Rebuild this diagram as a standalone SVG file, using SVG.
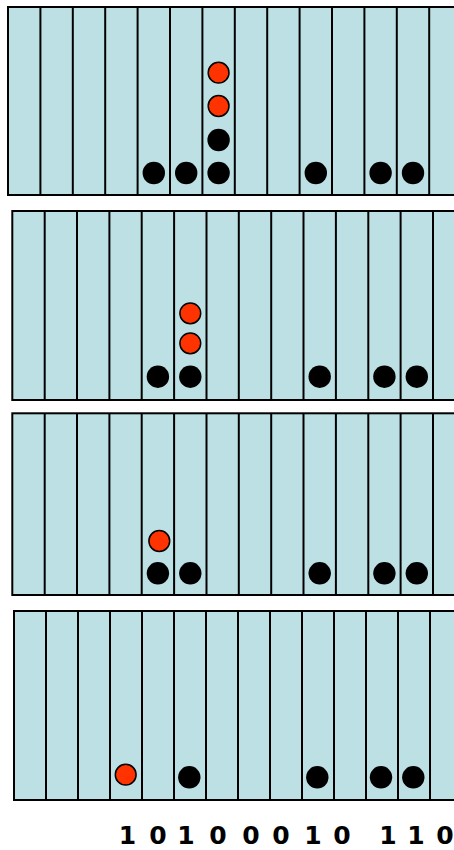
<svg xmlns="http://www.w3.org/2000/svg" width="454" height="850" viewBox="0 0 454 850">
<style>
.panel{fill:#BCE0E3;stroke:#000;stroke-width:2}
.col{stroke:#000;stroke-width:2}
.blk{fill:#000}
.red{fill:#FF3300;stroke:#000;stroke-width:1.5}
.bit{font-family:"DejaVu Sans",Verdana,sans-serif;font-weight:bold;font-size:25px;fill:#000;text-anchor:middle}
</style>
<rect width="454" height="850" fill="#fff"/>
<g id="panel1">
<rect class="panel" x="8" y="7" width="470" height="188"/>
<g class="col">
<line x1="40.4" y1="7" x2="40.4" y2="195"/><line x1="72.8" y1="7" x2="72.8" y2="195"/><line x1="105.2" y1="7" x2="105.2" y2="195"/><line x1="137.6" y1="7" x2="137.6" y2="195"/><line x1="170" y1="7" x2="170" y2="195"/><line x1="202.4" y1="7" x2="202.4" y2="195"/><line x1="234.8" y1="7" x2="234.8" y2="195"/><line x1="267.2" y1="7" x2="267.2" y2="195"/><line x1="299.6" y1="7" x2="299.6" y2="195"/><line x1="332" y1="7" x2="332" y2="195"/><line x1="364.4" y1="7" x2="364.4" y2="195"/><line x1="396.8" y1="7" x2="396.8" y2="195"/><line x1="429.2" y1="7" x2="429.2" y2="195"/>
</g>
<circle class="blk" cx="153.8" cy="173" r="11.2"/><circle class="blk" cx="186.2" cy="173" r="11.2"/><circle class="blk" cx="218.6" cy="173" r="11.2"/><circle class="blk" cx="218.6" cy="140" r="11.2"/>
<circle class="red" cx="218.6" cy="106" r="10.4"/><circle class="red" cx="218.6" cy="72.7" r="10.4"/>
<circle class="blk" cx="315.8" cy="173" r="11.2"/><circle class="blk" cx="380.6" cy="173" r="11.2"/><circle class="blk" cx="413" cy="173" r="11.2"/>
</g>
<g id="panel2">
<rect class="panel" x="12.3" y="211" width="470" height="189"/>
<g class="col">
<line x1="44.7" y1="211" x2="44.7" y2="400"/><line x1="77" y1="211" x2="77" y2="400"/><line x1="109.4" y1="211" x2="109.4" y2="400"/><line x1="141.7" y1="211" x2="141.7" y2="400"/><line x1="174.1" y1="211" x2="174.1" y2="400"/><line x1="206.5" y1="211" x2="206.5" y2="400"/><line x1="238.8" y1="211" x2="238.8" y2="400"/><line x1="271.2" y1="211" x2="271.2" y2="400"/><line x1="303.5" y1="211" x2="303.5" y2="400"/><line x1="335.9" y1="211" x2="335.9" y2="400"/><line x1="368.3" y1="211" x2="368.3" y2="400"/><line x1="400.6" y1="211" x2="400.6" y2="400"/><line x1="433" y1="211" x2="433" y2="400"/>
</g>
<circle class="blk" cx="157.9" cy="376.7" r="11.2"/><circle class="blk" cx="190.3" cy="376.7" r="11.2"/>
<circle class="red" cx="190.3" cy="343.3" r="10.4"/><circle class="red" cx="190.3" cy="313.3" r="10.4"/>
<circle class="blk" cx="319.7" cy="376.7" r="11.2"/><circle class="blk" cx="384.4" cy="376.7" r="11.2"/><circle class="blk" cx="416.8" cy="376.7" r="11.2"/>
</g>
<g id="panel3">
<rect class="panel" x="12.3" y="413.3" width="470" height="181.7"/>
<g class="col">
<line x1="44.7" y1="413.3" x2="44.7" y2="595"/><line x1="77" y1="413.3" x2="77" y2="595"/><line x1="109.4" y1="413.3" x2="109.4" y2="595"/><line x1="141.7" y1="413.3" x2="141.7" y2="595"/><line x1="174.1" y1="413.3" x2="174.1" y2="595"/><line x1="206.5" y1="413.3" x2="206.5" y2="595"/><line x1="238.8" y1="413.3" x2="238.8" y2="595"/><line x1="271.2" y1="413.3" x2="271.2" y2="595"/><line x1="303.5" y1="413.3" x2="303.5" y2="595"/><line x1="335.9" y1="413.3" x2="335.9" y2="595"/><line x1="368.3" y1="413.3" x2="368.3" y2="595"/><line x1="400.6" y1="413.3" x2="400.6" y2="595"/><line x1="433" y1="413.3" x2="433" y2="595"/>
</g>
<circle class="blk" cx="157.9" cy="573.3" r="11.2"/><circle class="blk" cx="190.3" cy="573.3" r="11.2"/>
<circle class="red" cx="159.3" cy="541" r="10.4"/>
<circle class="blk" cx="319.7" cy="573.3" r="11.2"/><circle class="blk" cx="384.4" cy="573.3" r="11.2"/><circle class="blk" cx="416.8" cy="573.3" r="11.2"/>
</g>
<g id="panel4">
<rect class="panel" x="14" y="611" width="470" height="189"/>
<g class="col">
<line x1="46" y1="611" x2="46" y2="800"/><line x1="78" y1="611" x2="78" y2="800"/><line x1="110" y1="611" x2="110" y2="800"/><line x1="142" y1="611" x2="142" y2="800"/><line x1="174" y1="611" x2="174" y2="800"/><line x1="206" y1="611" x2="206" y2="800"/><line x1="238" y1="611" x2="238" y2="800"/><line x1="270" y1="611" x2="270" y2="800"/><line x1="302" y1="611" x2="302" y2="800"/><line x1="334" y1="611" x2="334" y2="800"/><line x1="366" y1="611" x2="366" y2="800"/><line x1="398" y1="611" x2="398" y2="800"/><line x1="430" y1="611" x2="430" y2="800"/>
</g>
<circle class="red" cx="125.7" cy="774.7" r="10.4"/>
<circle class="blk" cx="189.3" cy="777.3" r="11.2"/><circle class="blk" cx="317.3" cy="777.3" r="11.2"/><circle class="blk" cx="381" cy="777.3" r="11.2"/><circle class="blk" cx="413.3" cy="777.3" r="11.2"/>
</g>
<g id="bits">
<text class="bit" x="127.5" y="843.5">1</text>
<text class="bit" x="158" y="843.5">0</text>
<text class="bit" x="186" y="843.5">1</text>
<text class="bit" x="218" y="843.5">0</text>
<text class="bit" x="251" y="843.5">0</text>
<text class="bit" x="281" y="843.5">0</text>
<text class="bit" x="313" y="843.5">1</text>
<text class="bit" x="342" y="843.5">0</text>
<text class="bit" x="388" y="843.5">1</text>
<text class="bit" x="416" y="843.5">1</text>
<text class="bit" x="445" y="843.5">0</text>
</g>
</svg>
